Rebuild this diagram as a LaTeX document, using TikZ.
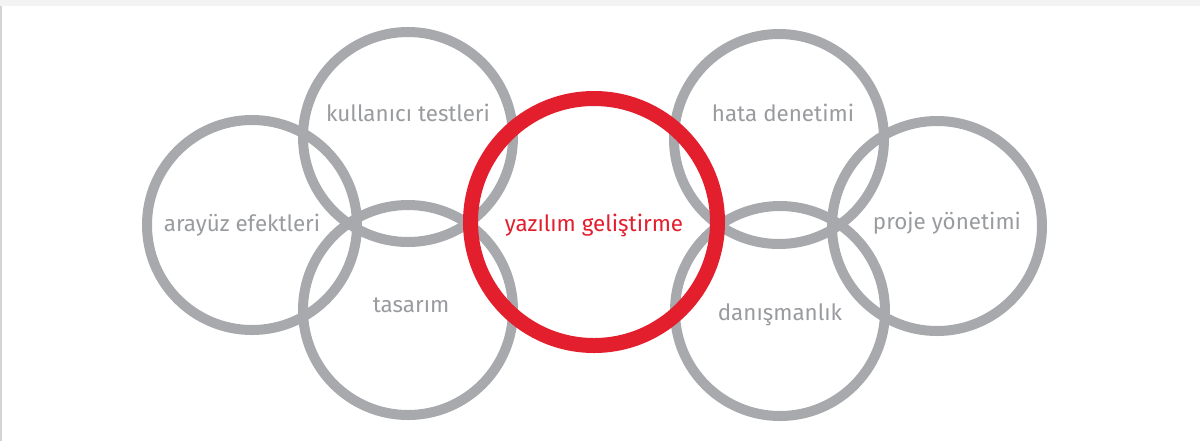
\documentclass[tikz,border=0pt]{standalone}
\usepackage{fontspec}
\setmainfont{Fira Sans}
\usepackage{tikz}
\usetikzlibrary{positioning}
\definecolor{ringgray}{HTML}{A7A9AC}
\definecolor{textgray}{HTML}{999B9E}
\definecolor{ringred}{HTML}{E31E2D}
\definecolor{bandgray}{HTML}{F3F3F3}
\tikzset{
  ring/.style={circle, draw=ringgray, line width=5pt, minimum size=105pt, inner sep=0pt},
  redring/.style={circle, draw=ringred, line width=7.5pt, minimum size=123.5pt, inner sep=0pt},
  lbl/.style={text=textgray, font=\fontsize{11.2}{13}\selectfont, inner sep=0pt},
  redlbl/.style={lbl, text=ringred}
}

\begin{document}
\begin{tikzpicture}[x=0.5pt, y=-0.5pt]
    % Frame of the picture.
    \useasboundingbox (0, 0) rectangle (1200, 441);
    \fill[bandgray] (0, 0) rectangle (1200, 6);
    \fill[ringgray!50] (0, 6) rectangle (1.5, 441);

    % Draw the left group of rings.
    \node[ring] (kullanici) at (408, 137) {};
    \node[ring] (arayuz) at (252, 225) {};
    \node[ring] (tasarim) at (408, 310) {};

    % Draw the right group of rings.
    \node[ring] (hata) at (779, 139) {};
    \node[ring] (danisman) at (780, 311) {};
    \node[ring] (proje) at (937, 226) {};

    % Draw the central ring on top.
    \node[redring] (yazilim) at (594, 222) {};

    % Write the labels.
    \node[lbl] (kullanicilbl) at (408, 113) {kullanıcı testleri};
    \node[lbl] (arayuzlbl) at (242, 225) {arayüz efektleri};
    \node[lbl] (tasarimlbl) at (411, 305) {tasarım};
    \node[redlbl] (yazilimlbl) at (594, 225) {yazılım geliştirme};
    \node[lbl] (hatalbl) at (783, 113) {hata denetimi};
    \node[lbl] (projelbl) at (947, 223) {proje yönetimi};
    \node[lbl] (danismanlbl) at (780, 315) {danışmanlık};
\end{tikzpicture}
\end{document}
